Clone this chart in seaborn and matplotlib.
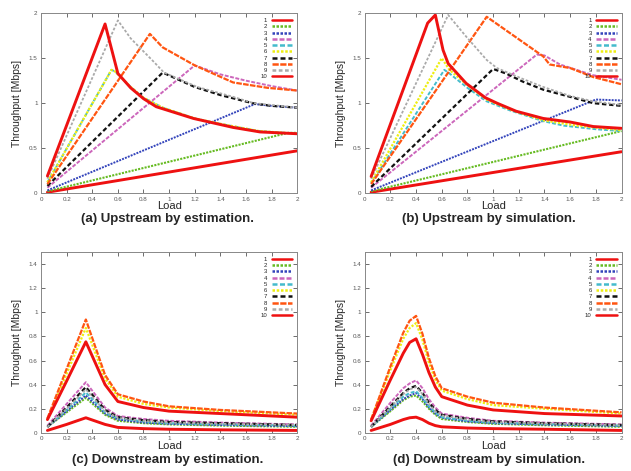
import numpy as np
import pandas as pd
import seaborn as sns
import matplotlib as mpl
mpl.use('Agg')
import matplotlib.pyplot as plt
import matplotlib.ticker as mticker

# series styles (gnuplot-like)
colors = ['#ee1111', '#66bb22', '#3344bb', '#cc66bb', '#44bbcc',
          '#eeee11', '#111111', '#ff5511', '#aaaaaa', '#ee1111']
styles = ['-', (0, (1, 0.6)), (0, (1, 0.6)), (0, (2, 0.8)), (0, (2, 1)),
          (0, (1, 0.7)), (0, (2, 1.2)), (0, (2.5, 0.6)), (0, (1.5, 1)), '-']
widths = [2.1, 1.5, 1.4, 1.4, 1.4, 1.6, 1.6, 1.6, 1.3, 2.1]
labels = [str(i) for i in range(1, 11)]

# (a) upstream by estimation
up_est_x = [
    [0.05, 2.0],
    [0.05, 1.93, 2.0],
    [0.05, 1.67, 1.8, 2.0],
    [0.05, 1.2, 1.4, 1.6, 1.8, 2.0],
    [0.05, 0.55, 0.58, 0.7, 0.8, 0.95, 1.2, 1.4, 1.7, 2.0],
    [0.05, 0.55, 0.58, 0.7, 0.8, 0.95, 1.2, 1.4, 1.7, 2.0],
    [0.05, 0.95, 1.2, 1.4, 1.65, 1.8, 2.0],
    [0.05, 0.85, 0.95, 1.2, 1.5, 1.77, 2.0],
    [0.05, 0.6, 0.7, 0.88, 0.96, 1.22, 1.5, 1.66, 2.0],
    [0.05, 0.5, 0.6, 0.7, 0.8, 0.9, 1.19, 1.5, 1.71, 2.0],
]
up_est_y = [
    [0.01, 0.47],
    [0.02, 0.67, 0.67],
    [0.03, 0.99, 0.97, 0.95],
    [0.06, 1.42, 1.32, 1.25, 1.19, 1.14],
    [0.12, 1.37, 1.35, 1.18, 1.06, 0.95, 0.83, 0.77, 0.69, 0.66],
    [0.12, 1.37, 1.35, 1.18, 1.06, 0.95, 0.83, 0.77, 0.69, 0.66],
    [0.08, 1.34, 1.18, 1.09, 1.0, 0.97, 0.95],
    [0.1, 1.77, 1.62, 1.42, 1.23, 1.17, 1.14],
    [0.16, 1.92, 1.72, 1.46, 1.34, 1.18, 1.07, 1.0, 0.95],
    [0.19, 1.88, 1.33, 1.17, 1.05, 0.96, 0.83, 0.73, 0.68, 0.66],
]

# (b) upstream by simulation
up_sim_x = [
    [0.05, 2.0],
    [0.05, 2.0],
    [0.05, 1.8, 2.0],
    [0.05, 1.34, 1.4, 1.52, 1.65, 1.78, 2.0],
    [0.05, 0.62, 0.66, 0.8, 0.95, 1.13, 1.39, 1.55, 1.8, 2.0],
    [0.05, 0.6, 0.66, 0.8, 0.95, 1.13, 1.39, 1.65, 2.0],
    [0.05, 1.0, 1.1, 1.23, 1.39, 1.6, 1.78, 2.0],
    [0.05, 0.95, 1.13, 1.26, 1.39, 1.44, 1.6, 1.78, 2.0],
    [0.05, 0.65, 0.79, 0.95, 1.03, 1.23, 1.39, 1.6, 1.78, 2.0],
    [0.05, 0.49, 0.55, 0.61, 0.65, 0.79, 0.94, 1.03, 1.18, 1.39, 1.6, 1.78, 2.0],
]
up_sim_y = [
    [0.01, 0.46],
    [0.02, 0.69],
    [0.03, 1.04, 1.03],
    [0.06, 1.54, 1.53, 1.43, 1.37, 1.31, 1.26],
    [0.11, 1.37, 1.33, 1.17, 1.02, 0.92, 0.80, 0.75, 0.71, 0.69],
    [0.12, 1.5, 1.37, 1.2, 1.04, 0.93, 0.81, 0.75, 0.7],
    [0.07, 1.38, 1.33, 1.24, 1.15, 1.07, 1.0, 0.97],
    [0.1, 1.96, 1.78, 1.65, 1.52, 1.43, 1.39, 1.29, 1.21],
    [0.16, 1.98, 1.74, 1.48, 1.39, 1.27, 1.18, 1.08, 1.02, 0.98],
    [0.185, 1.89, 1.98, 1.59, 1.44, 1.22, 1.06, 1.0, 0.91, 0.83, 0.79, 0.74, 0.72],
]

# (c) downstream by estimation
down_est_x = [0.05, 0.2, 0.35, 0.5, 0.6, 0.8, 1.0, 1.4, 2.0]
down_est_y = [
    [0.02, 0.07, 0.125, 0.07, 0.045, 0.035, 0.03, 0.025, 0.02],
    [0.05, 0.17, 0.29, 0.15, 0.10, 0.08, 0.07, 0.06, 0.05],
    [0.05, 0.18, 0.31, 0.16, 0.11, 0.085, 0.075, 0.065, 0.055],
    [0.06, 0.24, 0.42, 0.21, 0.14, 0.115, 0.10, 0.085, 0.07],
    [0.05, 0.19, 0.335, 0.17, 0.12, 0.095, 0.08, 0.07, 0.06],
    [0.11, 0.49, 0.87, 0.45, 0.30, 0.24, 0.21, 0.18, 0.15],
    [0.05, 0.21, 0.38, 0.19, 0.13, 0.105, 0.09, 0.08, 0.065],
    [0.12, 0.53, 0.94, 0.48, 0.32, 0.26, 0.22, 0.19, 0.16],
    [0.05, 0.20, 0.36, 0.18, 0.125, 0.10, 0.085, 0.075, 0.065],
    [0.11, 0.43, 0.755, 0.40, 0.26, 0.21, 0.18, 0.16, 0.13],
]

# (d) downstream by simulation
down_sim_x = [0.05, 0.2, 0.3, 0.35, 0.4, 0.45, 0.5, 0.55, 0.6, 0.8, 1.0, 1.4, 2.0]
down_sim_y = [
    [0.02, 0.07, 0.11, 0.125, 0.13, 0.11, 0.08, 0.06, 0.05, 0.04, 0.035, 0.03, 0.02],
    [0.05, 0.18, 0.27, 0.30, 0.31, 0.26, 0.20, 0.15, 0.115, 0.09, 0.075, 0.063, 0.05],
    [0.05, 0.19, 0.28, 0.31, 0.33, 0.28, 0.21, 0.16, 0.125, 0.095, 0.08, 0.068, 0.057],
    [0.06, 0.25, 0.37, 0.41, 0.435, 0.37, 0.28, 0.21, 0.16, 0.125, 0.10, 0.085, 0.07],
    [0.05, 0.20, 0.30, 0.33, 0.345, 0.29, 0.22, 0.17, 0.13, 0.10, 0.085, 0.072, 0.06],
    [0.11, 0.52, 0.78, 0.87, 0.91, 0.77, 0.58, 0.44, 0.35, 0.28, 0.23, 0.20, 0.16],
    [0.05, 0.22, 0.33, 0.37, 0.39, 0.33, 0.25, 0.19, 0.15, 0.115, 0.095, 0.08, 0.065],
    [0.11, 0.55, 0.83, 0.93, 0.97, 0.82, 0.62, 0.47, 0.37, 0.30, 0.25, 0.21, 0.17],
    [0.05, 0.21, 0.32, 0.36, 0.38, 0.32, 0.24, 0.18, 0.145, 0.11, 0.09, 0.078, 0.063],
    [0.10, 0.44, 0.66, 0.75, 0.78, 0.65, 0.50, 0.38, 0.30, 0.23, 0.19, 0.16, 0.14],
]

titles = ['(a) Upstream by estimation.', '(b) Upstream by simulation.',
          '(c) Downstream by estimation.', '(d) Downstream by simulation.']


def draw_panel(ax, xs, ys, ymax, ystep):
    for i in range(10):
        x = xs[i] if isinstance(xs[0], list) else xs
        sns.lineplot(x=x, y=ys[i], ax=ax, color=colors[i], linestyle=styles[i],
                     linewidth=widths[i], label=labels[i], estimator=None, sort=False)
    ax.set_xlim(0, 2)
    ax.set_ylim(0, ymax)
    ax.xaxis.set_major_locator(mticker.MultipleLocator(0.2))
    ax.yaxis.set_major_locator(mticker.MultipleLocator(ystep))
    fmt = mticker.FuncFormatter(lambda v, pos: '%g' % round(v, 2))
    ax.xaxis.set_major_formatter(fmt)
    ax.yaxis.set_major_formatter(fmt)
    ax.tick_params(direction='in', top=True, right=True, labelsize=4.5,
                   length=3, width=0.6, colors='#555555', pad=2.5)
    for sp in ax.spines.values():
        sp.set_color('#888888')
        sp.set_linewidth(0.7)
    ax.set_xlabel('Load', fontsize=8, labelpad=-0.5)
    ax.set_ylabel('Throughput [Mbps]', fontsize=7.5, labelpad=5)
    leg = ax.legend(loc='upper right', frameon=False, fontsize=4.3, markerfirst=False,
                    handlelength=3.4, labelspacing=0.18, borderaxespad=0.4,
                    handletextpad=0.8)
    for h in leg.get_lines():
        h.set_linewidth(1.8)


def main():
    sns.set_style('ticks')
    plt.rcParams['font.family'] = ['Liberation Sans', 'DejaVu Sans']

    fig = plt.figure(figsize=(6.31, 4.71), dpi=100)
    ax_a = fig.add_axes([0.065, 0.590, 0.406, 0.382])
    ax_b = fig.add_axes([0.578, 0.590, 0.407, 0.382])
    ax_c = fig.add_axes([0.065, 0.081, 0.406, 0.384])
    ax_d = fig.add_axes([0.578, 0.081, 0.407, 0.384])

    draw_panel(ax_a, up_est_x, up_est_y, 2, 0.5)
    draw_panel(ax_b, up_sim_x, up_sim_y, 2, 0.5)
    draw_panel(ax_c, down_est_x, down_est_y, 1.5, 0.2)
    draw_panel(ax_d, down_sim_x, down_sim_y, 1.5, 0.2)

    # panel captions
    fig.text(0.265, 1 - 219 / 471, titles[0], ha='center', va='center', fontsize=9.5, weight='bold')
    fig.text(0.775, 1 - 219 / 471, titles[1], ha='center', va='center', fontsize=9.5, weight='bold')
    fig.text(0.265, 1 - 460 / 471, titles[2], ha='center', va='center', fontsize=9.5, weight='bold')
    fig.text(0.775, 1 - 460 / 471, titles[3], ha='center', va='center', fontsize=9.5, weight='bold')

    fig.savefig('out.png', dpi=100)


if __name__ == '__main__':
    main()
